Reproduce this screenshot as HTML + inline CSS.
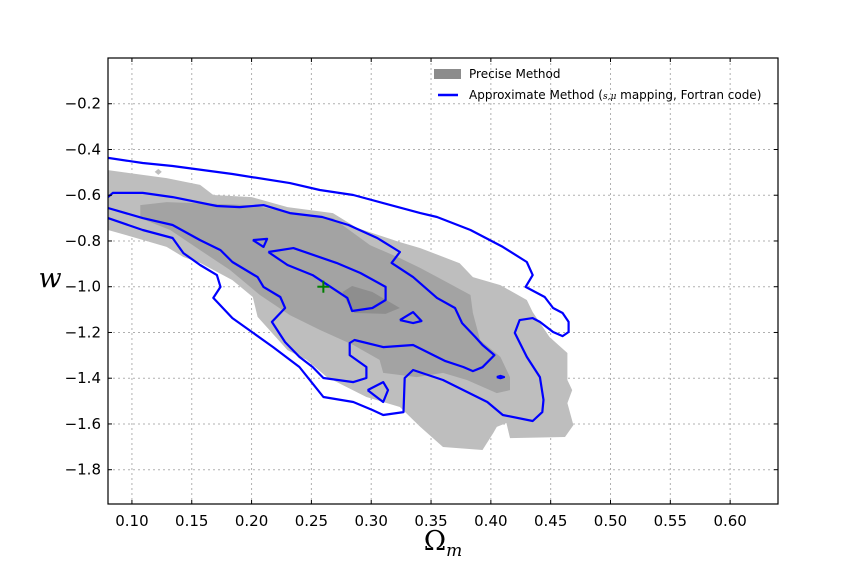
<!DOCTYPE html>
<html><head><meta charset="utf-8"><style>
body{margin:0;background:#fff;}
svg{display:block;font-family:"DejaVu Sans","Liberation Sans",sans-serif;}
</style></head><body>
<svg id="chart" width="864" height="576" viewBox="0 0 864 576">
<rect width="864" height="576" fill="#fff"/>
<g id="grid"></g>
<g id="fills"></g>
<g id="lines"></g>
<g id="marker"></g>
<rect x="108" y="58" width="670" height="446" fill="none" stroke="#000" stroke-width="1.2"/>
<g id="ticks"></g>
<text x="443" y="550" text-anchor="middle" font-family="'DejaVu Serif','Liberation Serif',serif" font-size="27">Ω<tspan font-size="17" font-style="italic" dy="6">m</tspan></text>
<text x="50" y="287" text-anchor="middle" font-family="'DejaVu Serif','Liberation Serif',serif" font-style="italic" font-size="27">w</text>
<g>
<g>
<rect x="434" y="69" width="27" height="10" fill="#8c8c8c"/>
<text x="469" y="78" font-size="12">Precise Method</text>
</g>
<g>
<line x1="438" y1="95" x2="458" y2="95" stroke="#0000ff" stroke-width="2.5"/>
<text x="469" y="99" font-size="12">Approximate Method (<tspan font-style="italic" font-size="9" font-family="'DejaVu Serif',serif">s,μ</tspan> mapping, Fortran code)</text>
</g>
</g>
</svg>
<script>
const xTicks=[0.10,0.15,0.20,0.25,0.30,0.35,0.40,0.45,0.50,0.55,0.60];
const xTickLabels=["0.10","0.15","0.20","0.25","0.30","0.35","0.40","0.45","0.50","0.55","0.60"];
const yTicks=[-0.2,-0.4,-0.6,-0.8,-1.0,-1.2,-1.4,-1.6,-1.8];
const yTickLabels=["−0.2","−0.4","−0.6","−0.8","−1.0","−1.2","−1.4","−1.6","−1.8"];
const fiducial=[0.26,-1.0];
const preciseOuter=[[0.080,-0.490],[0.129,-0.525],[0.157,-0.555],[0.168,-0.599],[0.200,-0.608],[0.230,-0.652],[0.268,-0.678],[0.288,-0.743],[0.324,-0.805],[0.341,-0.831],[0.374,-0.897],[0.385,-0.958],[0.408,-0.993],[0.430,-1.058],[0.435,-1.111],[0.449,-1.220],[0.464,-1.290],[0.464,-1.408],[0.468,-1.452],[0.464,-1.509],[0.469,-1.605],[0.462,-1.657],[0.416,-1.662],[0.413,-1.596],[0.405,-1.613],[0.402,-1.640],[0.393,-1.714],[0.360,-1.701],[0.341,-1.613],[0.324,-1.526],[0.296,-1.482],[0.263,-1.395],[0.246,-1.320],[0.230,-1.277],[0.205,-1.132],[0.201,-1.045],[0.184,-0.971],[0.157,-0.896],[0.143,-0.870],[0.129,-0.826],[0.101,-0.783],[0.080,-0.752]];
const preciseSpeck=[[0.119,-0.498],[0.122,-0.485],[0.125,-0.498],[0.122,-0.511]];
const preciseMid=[[0.107,-0.643],[0.129,-0.630],[0.199,-0.643],[0.230,-0.673],[0.268,-0.700],[0.299,-0.818],[0.324,-0.875],[0.341,-0.918],[0.360,-0.971],[0.383,-1.036],[0.385,-1.115],[0.391,-1.233],[0.408,-1.307],[0.416,-1.395],[0.416,-1.452],[0.405,-1.465],[0.380,-1.408],[0.360,-1.377],[0.338,-1.395],[0.310,-1.377],[0.307,-1.320],[0.285,-1.255],[0.257,-1.189],[0.232,-1.124],[0.207,-1.036],[0.182,-0.927],[0.157,-0.840],[0.132,-0.752],[0.107,-0.700]];
const preciseCore=[[0.276,-1.023],[0.284,-0.997],[0.301,-1.023],[0.324,-1.093],[0.312,-1.119],[0.286,-1.115],[0.280,-1.071]];
const approxOuter=[[0.080,-0.437],[0.109,-0.459],[0.134,-0.472],[0.184,-0.507],[0.232,-0.547],[0.257,-0.577],[0.285,-0.599],[0.341,-0.678],[0.355,-0.695],[0.383,-0.752],[0.410,-0.826],[0.430,-0.892],[0.435,-0.949],[0.429,-1.001],[0.445,-1.045],[0.452,-1.093],[0.460,-1.115],[0.465,-1.154],[0.465,-1.198],[0.460,-1.216],[0.452,-1.198],[0.441,-1.154],[0.435,-1.137],[0.424,-1.146],[0.420,-1.202],[0.430,-1.307],[0.441,-1.395],[0.444,-1.495],[0.443,-1.548],[0.435,-1.587],[0.410,-1.561],[0.397,-1.504],[0.360,-1.408],[0.335,-1.364],[0.328,-1.399],[0.327,-1.548],[0.310,-1.561],[0.301,-1.539],[0.285,-1.504],[0.260,-1.482],[0.240,-1.351],[0.218,-1.264],[0.184,-1.137],[0.168,-1.049],[0.174,-1.001],[0.171,-0.949],[0.157,-0.905],[0.143,-0.853],[0.134,-0.787],[0.109,-0.752],[0.080,-0.700]];
const approxMid=[[0.080,-0.608],[0.084,-0.590],[0.109,-0.590],[0.134,-0.608],[0.171,-0.647],[0.190,-0.652],[0.210,-0.643],[0.232,-0.678],[0.259,-0.695],[0.281,-0.730],[0.305,-0.787],[0.324,-0.848],[0.317,-0.896],[0.335,-0.958],[0.355,-1.049],[0.370,-1.093],[0.376,-1.159],[0.387,-1.220],[0.393,-1.255],[0.403,-1.299],[0.393,-1.352],[0.385,-1.369],[0.377,-1.351],[0.362,-1.325],[0.335,-1.255],[0.310,-1.264],[0.286,-1.233],[0.282,-1.246],[0.282,-1.299],[0.296,-1.351],[0.296,-1.399],[0.285,-1.417],[0.260,-1.399],[0.251,-1.351],[0.240,-1.307],[0.228,-1.242],[0.217,-1.154],[0.228,-1.093],[0.224,-1.045],[0.210,-1.001],[0.205,-0.958],[0.184,-0.892],[0.174,-0.840],[0.157,-0.796],[0.134,-0.730],[0.109,-0.700],[0.080,-0.656]];
const approxInner=[[0.214,-0.848],[0.235,-0.831],[0.271,-0.896],[0.291,-0.940],[0.312,-1.001],[0.312,-1.058],[0.301,-1.093],[0.284,-1.106],[0.280,-1.049],[0.251,-0.949],[0.230,-0.905],[0.214,-0.848]];
const approxIsland1=[[0.201,-0.796],[0.213,-0.791],[0.210,-0.826],[0.201,-0.796]];
const approxIsland2=[[0.324,-1.146],[0.335,-1.111],[0.342,-1.150],[0.335,-1.159],[0.324,-1.146]];
const approxIsland3=[[0.297,-1.452],[0.310,-1.417],[0.314,-1.452],[0.310,-1.504],[0.297,-1.452]];
const approxIsland4=[[0.405,-1.395],[0.408,-1.390],[0.411,-1.395],[0.408,-1.400],[0.405,-1.395]];

const X0=108,X1=778,Y0=58,Y1=504,xmin=0.08,xmax=0.64,ymax=0,ymin=-1.95;
function sx(v){return X0+(v-xmin)/(xmax-xmin)*(X1-X0);}
function sy(v){return Y0+(ymax-v)/(ymax-ymin)*(Y1-Y0);}
const NS="http://www.w3.org/2000/svg";
function mk(tag,parent,attrs){const e=document.createElementNS(NS,tag);for(const k in attrs)e.setAttribute(k,attrs[k]);parent.appendChild(e);return e;}
function pts(arr){return arr.map(p=>sx(p[0]).toFixed(1)+","+sy(p[1]).toFixed(1)).join(" ");}

const clip=mk("clipPath",document.getElementById("chart"),{id:"pc"});
mk("rect",clip,{x:X0,y:Y0,width:X1-X0,height:Y1-Y0});

const grid=document.getElementById("grid");
const ticks=document.getElementById("ticks");
xTicks.forEach((v,i)=>{
  const g=mk("line",grid,{x1:sx(v),x2:sx(v),y1:Y0,y2:Y1,stroke:"#b0b0b0","stroke-dasharray":"2,3","stroke-width":1});
  
  
  mk("line",ticks,{x1:sx(v),x2:sx(v),y1:Y1,y2:Y1-4,stroke:"#000"});
  mk("line",ticks,{x1:sx(v),x2:sx(v),y1:Y0,y2:Y0+4,stroke:"#000"});
  const t=mk("text",ticks,{x:sx(v),y:Y1+22,"text-anchor":"middle","font-size":15});
  t.textContent=xTickLabels[i];
  
  
});
yTicks.forEach((v,i)=>{
  const g=mk("line",grid,{x1:X0,x2:X1,y1:sy(v),y2:sy(v),stroke:"#b0b0b0","stroke-dasharray":"2,3","stroke-width":1});
  
  
  mk("line",ticks,{x1:X0,x2:X0+4,y1:sy(v),y2:sy(v),stroke:"#000"});
  mk("line",ticks,{x1:X1,x2:X1-4,y1:sy(v),y2:sy(v),stroke:"#000"});
  const t=mk("text",ticks,{x:X0-7,y:sy(v)+5,"text-anchor":"end","font-size":15});
  t.textContent=yTickLabels[i];
  
  
});

const fills=document.getElementById("fills");
[[preciseOuter,"#bebebe","precise-95-region"],[preciseSpeck,"#bebebe","precise-speck"],[preciseMid,"#a3a3a3","precise-68-region"],[preciseCore,"#8e8e8e","precise-core-region"]].forEach(d=>{
  const p=mk("polygon",fills,{points:pts(d[0]),fill:d[1],"clip-path":"url(#pc)"});
  
  
});
const lines=document.getElementById("lines");
[[approxOuter,"approx-outer-contour"],[approxMid,"approx-mid-contour"],[approxInner,"approx-inner-contour"],[approxIsland1,"approx-island"],[approxIsland2,"approx-island"],[approxIsland3,"approx-island"],[approxIsland4,"approx-island"]].forEach(d=>{
  const p=mk("polyline",lines,{points:pts(d[0]),fill:"none",stroke:"#0000ff","stroke-width":2.2,"stroke-linejoin":"round","clip-path":"url(#pc)"});
  
  
});
const mg=document.getElementById("marker");
const fx=sx(fiducial[0]),fy=sy(fiducial[1]);
const m1=mk("line",mg,{x1:fx-6,x2:fx+6,y1:fy,y2:fy,stroke:"#007f00","stroke-width":2});


const m2=mk("line",mg,{x1:fx,x2:fx,y1:fy-6,y2:fy+6,stroke:"#007f00","stroke-width":2});


</script>
</body></html>
